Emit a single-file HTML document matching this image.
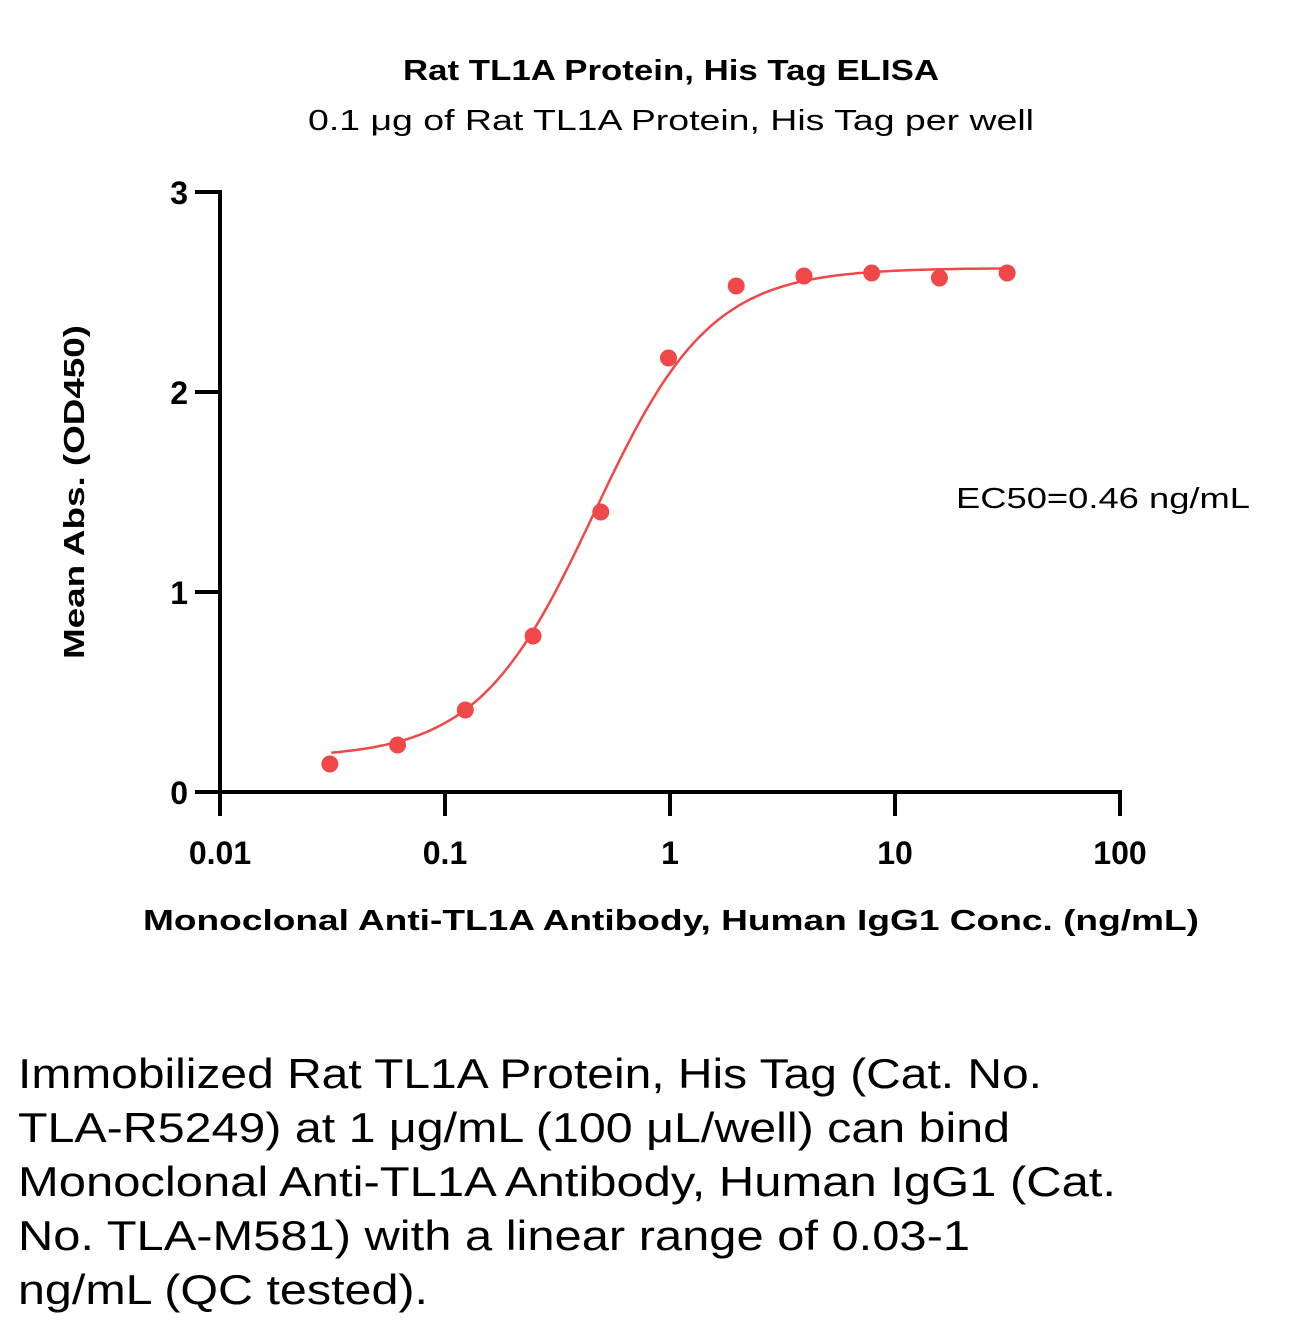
<!DOCTYPE html>
<html><head><meta charset="utf-8"><style>
html,body{margin:0;padding:0;background:#fff;}
svg{display:block;font-family:"Liberation Sans",sans-serif;}
</style></head><body>
<svg id="chart" width="1295" height="1328" viewBox="0 0 1295 1328" xmlns="http://www.w3.org/2000/svg">
<text x="671" y="80" text-anchor="middle" font-size="29" font-weight="bold" textLength="536" lengthAdjust="spacingAndGlyphs">Rat TL1A Protein, His Tag ELISA</text>
<text x="671" y="130" text-anchor="middle" font-size="29" textLength="726" lengthAdjust="spacingAndGlyphs">0.1 μg of Rat TL1A Protein, His Tag per well</text>
<g id="axes"></g>
<g id="curve"></g>
<g id="points"></g>
<text transform="translate(84,492) rotate(-90)" text-anchor="middle" font-size="29" font-weight="bold" textLength="334" lengthAdjust="spacingAndGlyphs">Mean Abs. (OD450)</text>
<text x="671" y="930" text-anchor="middle" font-size="29" font-weight="bold" textLength="1056" lengthAdjust="spacingAndGlyphs">Monoclonal Anti-TL1A Antibody, Human IgG1 Conc. (ng/mL)</text>
<text x="956" y="508" font-size="29" textLength="294" lengthAdjust="spacingAndGlyphs">EC50=0.46 ng/mL</text>
<g font-size="42">
<text x="18" y="1088" textLength="1024" lengthAdjust="spacingAndGlyphs">Immobilized Rat TL1A Protein, His Tag (Cat. No.</text>
<text x="18" y="1142" textLength="992" lengthAdjust="spacingAndGlyphs">TLA-R5249) at 1 μg/mL (100 μL/well) can bind</text>
<text x="18" y="1196" textLength="1098" lengthAdjust="spacingAndGlyphs">Monoclonal Anti-TL1A Antibody, Human IgG1 (Cat.</text>
<text x="18" y="1250" textLength="952" lengthAdjust="spacingAndGlyphs">No. TLA-M581) with a linear range of 0.03-1</text>
<text x="18" y="1304" textLength="410" lengthAdjust="spacingAndGlyphs">ng/mL (QC tested).</text>
</g>
</svg>
<script>
const concs=[0.03125,0.0625,0.125,0.25,0.5,1,2,4,8,16,32];
const absVals=[0.14,0.235,0.41,0.78,1.40,2.17,2.53,2.58,2.595,2.57,2.595];
const fitParams=[0.17,2.62,0.46,1.68]; // bottom, top, ec50, hill
const xTicks=[0.01,0.1,1,10,100];
const xTickLabels=["0.01","0.1","1","10","100"];
const yTicks=[0,1,2,3];
const yTickLabels=["0","1","2","3"];
const NS="http://www.w3.org/2000/svg";
const X=v=>220+(Math.log10(v)+2)*225;
const Y=v=>792-v*200;
function mk(tag,attrs,parent){const e=document.createElementNS(NS,tag);for(const k in attrs)e.setAttribute(k,attrs[k]);parent.appendChild(e);return e;}
const ax=document.getElementById('axes');
let e=mk('line',{x1:220,y1:Y(3)-2,x2:220,y2:794,stroke:'#000','stroke-width':4},ax);


e=mk('line',{x1:218,y1:792,x2:X(100)+2,y2:792,stroke:'#000','stroke-width':4},ax);


yTicks.forEach((t,i)=>{
 let l=mk('line',{x1:195,y1:Y(t),x2:220,y2:Y(t),stroke:'#000','stroke-width':4},ax);
 
 
 let tx=mk('text',{x:188,y:Y(t)+12,'text-anchor':'end','font-size':32,'font-weight':'bold'},ax);
 tx.textContent=yTickLabels[i];
 
 
});
xTicks.forEach((t,i)=>{
 let l=mk('line',{x1:X(t),y1:792,x2:X(t),y2:816,stroke:'#000','stroke-width':4},ax);
 
 
 let tx=mk('text',{x:X(t),y:864,'text-anchor':'middle','font-size':32,'font-weight':'bold'},ax);
 tx.textContent=xTickLabels[i];
 
 
});
const [b,tp,ec,h]=fitParams;
const f=x=>b+(tp-b)/(1+Math.pow(ec/x,h));
let d='';const lo=Math.log10(concs[0]),hi=Math.log10(concs[concs.length-1]);
for(let i=0;i<=200;i++){const x=Math.pow(10,lo+(hi-lo)*i/200);d+=(i?'L':'M')+X(x).toFixed(1)+','+Y(f(x)).toFixed(1);}
const p=mk('path',{d:d,fill:'none',stroke:'#f04848','stroke-width':2.5},document.getElementById('curve'));


const pg=document.getElementById('points');
concs.forEach((c,i)=>{
 const ci=mk('circle',{cx:X(c)-1.5,cy:Y(absVals[i]),r:8.5,fill:'#f04848'},pg);
 
 
});
</script>
</body></html>
